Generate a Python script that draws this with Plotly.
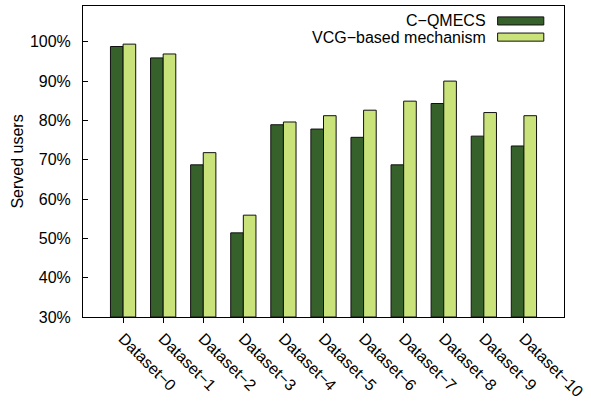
import plotly.graph_objects as go

# Served-user ratio per dataset for the two allocation mechanisms
datasets = [f"Dataset\u2212{i}" for i in range(11)]
series_names = ["C\u2212QMECS", "VCG\u2212based mechanism"]
cqmecs = [98.8, 95.9, 68.7, 51.4, 78.9, 77.8, 75.7, 68.7, 84.3, 76.0, 73.5]
vcg = [99.4, 96.9, 71.8, 55.9, 79.6, 81.2, 82.6, 84.9, 90.0, 82.0, 81.2]
y_ticks = [30, 40, 50, 60, 70, 80, 90, 100]
y_tick_text = [f"{v}%" for v in y_ticks]

colors = ["#36612b", "#c9e27a"]
font_family = "Liberation Sans, Arial, sans-serif"

fig = go.Figure()
for name, vals, col in zip(series_names, [cqmecs, vcg], colors):
    fig.add_trace(go.Bar(
        x=datasets, y=[v - 30 for v in vals], base=30, name=name,
        marker=dict(color=col, line=dict(color="#111111", width=1)),
        showlegend=False,
    ))

# Legend drawn as right-aligned text with swatches to its right
for i, (name, col) in enumerate(zip(series_names, colors)):
    yc = 0.952 - i * 0.052
    fig.add_annotation(
        x=0.842, y=yc, xref="paper", yref="paper", text=name,
        showarrow=False, xanchor="right", yanchor="middle",
        font=dict(family=font_family, size=16, color="#000000"),
    )
    fig.add_shape(
        type="rect", xref="paper", yref="paper",
        x0=0.862, x1=0.958, y0=yc - 0.013, y1=yc + 0.013,
        fillcolor=col, line=dict(color="#111111", width=1),
    )

fig.update_layout(
    width=591, height=405,
    margin=dict(l=83, r=24, t=5, b=87),
    paper_bgcolor="white", plot_bgcolor="white",
    barmode="group", bargap=0.37, bargroupgap=0,
    font=dict(family=font_family, size=16, color="#000000"),
    xaxis=dict(
        range=[-1, 11], tickangle=45, showline=True, linecolor="#000000",
        linewidth=1, mirror=True, ticks="outside", ticklen=5,
        tickcolor="#000000", showgrid=False,
        tickfont=dict(family=font_family, size=16),
    ),
    yaxis=dict(
        range=[30, 109.1], tickvals=y_ticks, ticktext=y_tick_text,
        showline=True, linecolor="#000000", linewidth=1, mirror=True,
        ticks="inside", ticklen=5, tickcolor="#000000", showgrid=False,
        zeroline=False, ticklabelstandoff=8,
        title=dict(text="Served users", standoff=2,
                   font=dict(family=font_family, size=16)),
        tickfont=dict(family=font_family, size=16),
    ),
)

fig.write_html("out.html")
